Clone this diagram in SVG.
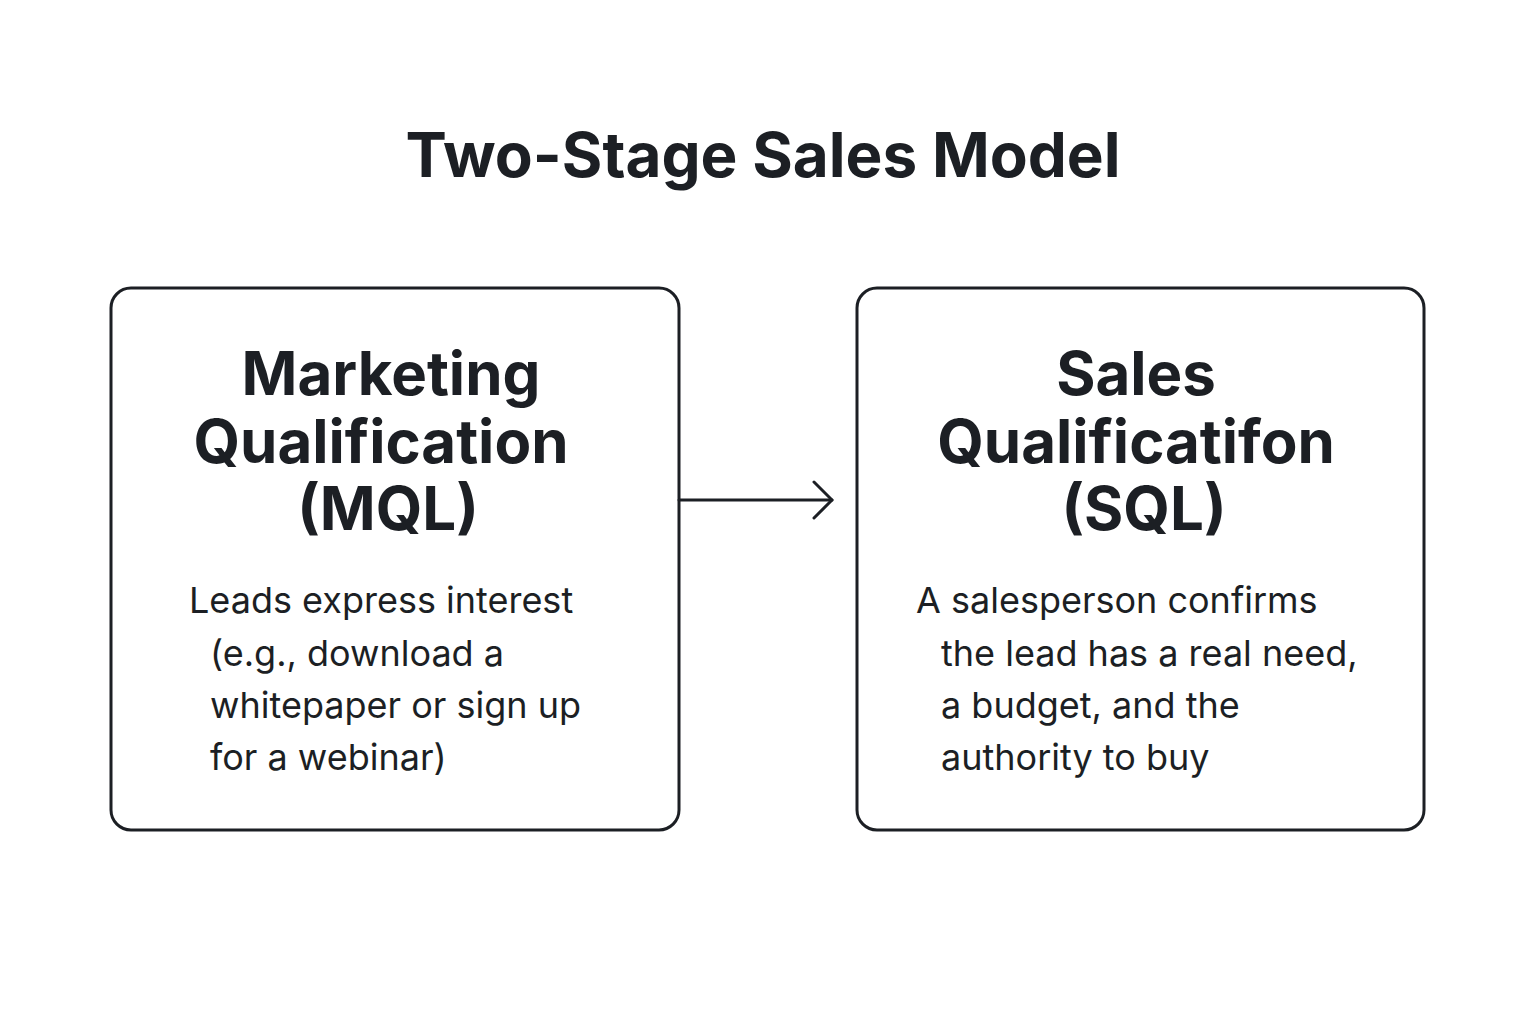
<svg xmlns="http://www.w3.org/2000/svg" width="1536" height="1024" viewBox="0 0 1536 1024">
<style>
.box{fill:#fff;stroke:#1c1f24;stroke-width:3}
.t{font-family:Inter,"Liberation Sans",sans-serif;fill:#1c1f24}
.h{font-size:60px;font-weight:700;text-anchor:middle}
.b{font-size:36px}
</style>
<rect width="1536" height="1024" fill="#fff"/>
<text class="t" x="763" y="177" font-size="62" font-weight="700" text-anchor="middle">Two-Stage Sales Model</text>
<g id="mql">
<rect class="box" x="111" y="288" width="568" height="542" rx="20"/>
<text class="t h" x="391" y="395">Marketing</text>
<text class="t h" x="381" y="463">Qualification</text>
<text class="t h" x="388" y="530">(MQL)</text>
<text class="t b" x="189" y="613">Leads express interest</text>
<text class="t b" x="210" y="666">(e.g., download a</text>
<text class="t b" x="210" y="718">whitepaper or sign up</text>
<text class="t b" x="210" y="770">for a webinar)</text>
</g>
<g id="sql">
<rect class="box" x="857" y="288" width="567" height="542" rx="20"/>
<text class="t h" x="1136" y="395">Sales</text>
<text class="t h" x="1136" y="463">Qualificatifon</text>
<text class="t h" x="1144" y="530">(SQL)</text>
<text class="t b" x="916" y="613">A salesperson confirms</text>
<text class="t b" x="941" y="666">the lead has a real need,</text>
<text class="t b" x="941" y="718">a budget, and the</text>
<text class="t b" x="941" y="770">authority to buy</text>
</g>
<g id="connectors" fill="none" stroke="#1c1f24" stroke-width="3" stroke-linecap="round" stroke-linejoin="round">
<path d="M679 500H832"/>
<path d="M814 482L832 500L814 518"/>
</g>
</svg>
